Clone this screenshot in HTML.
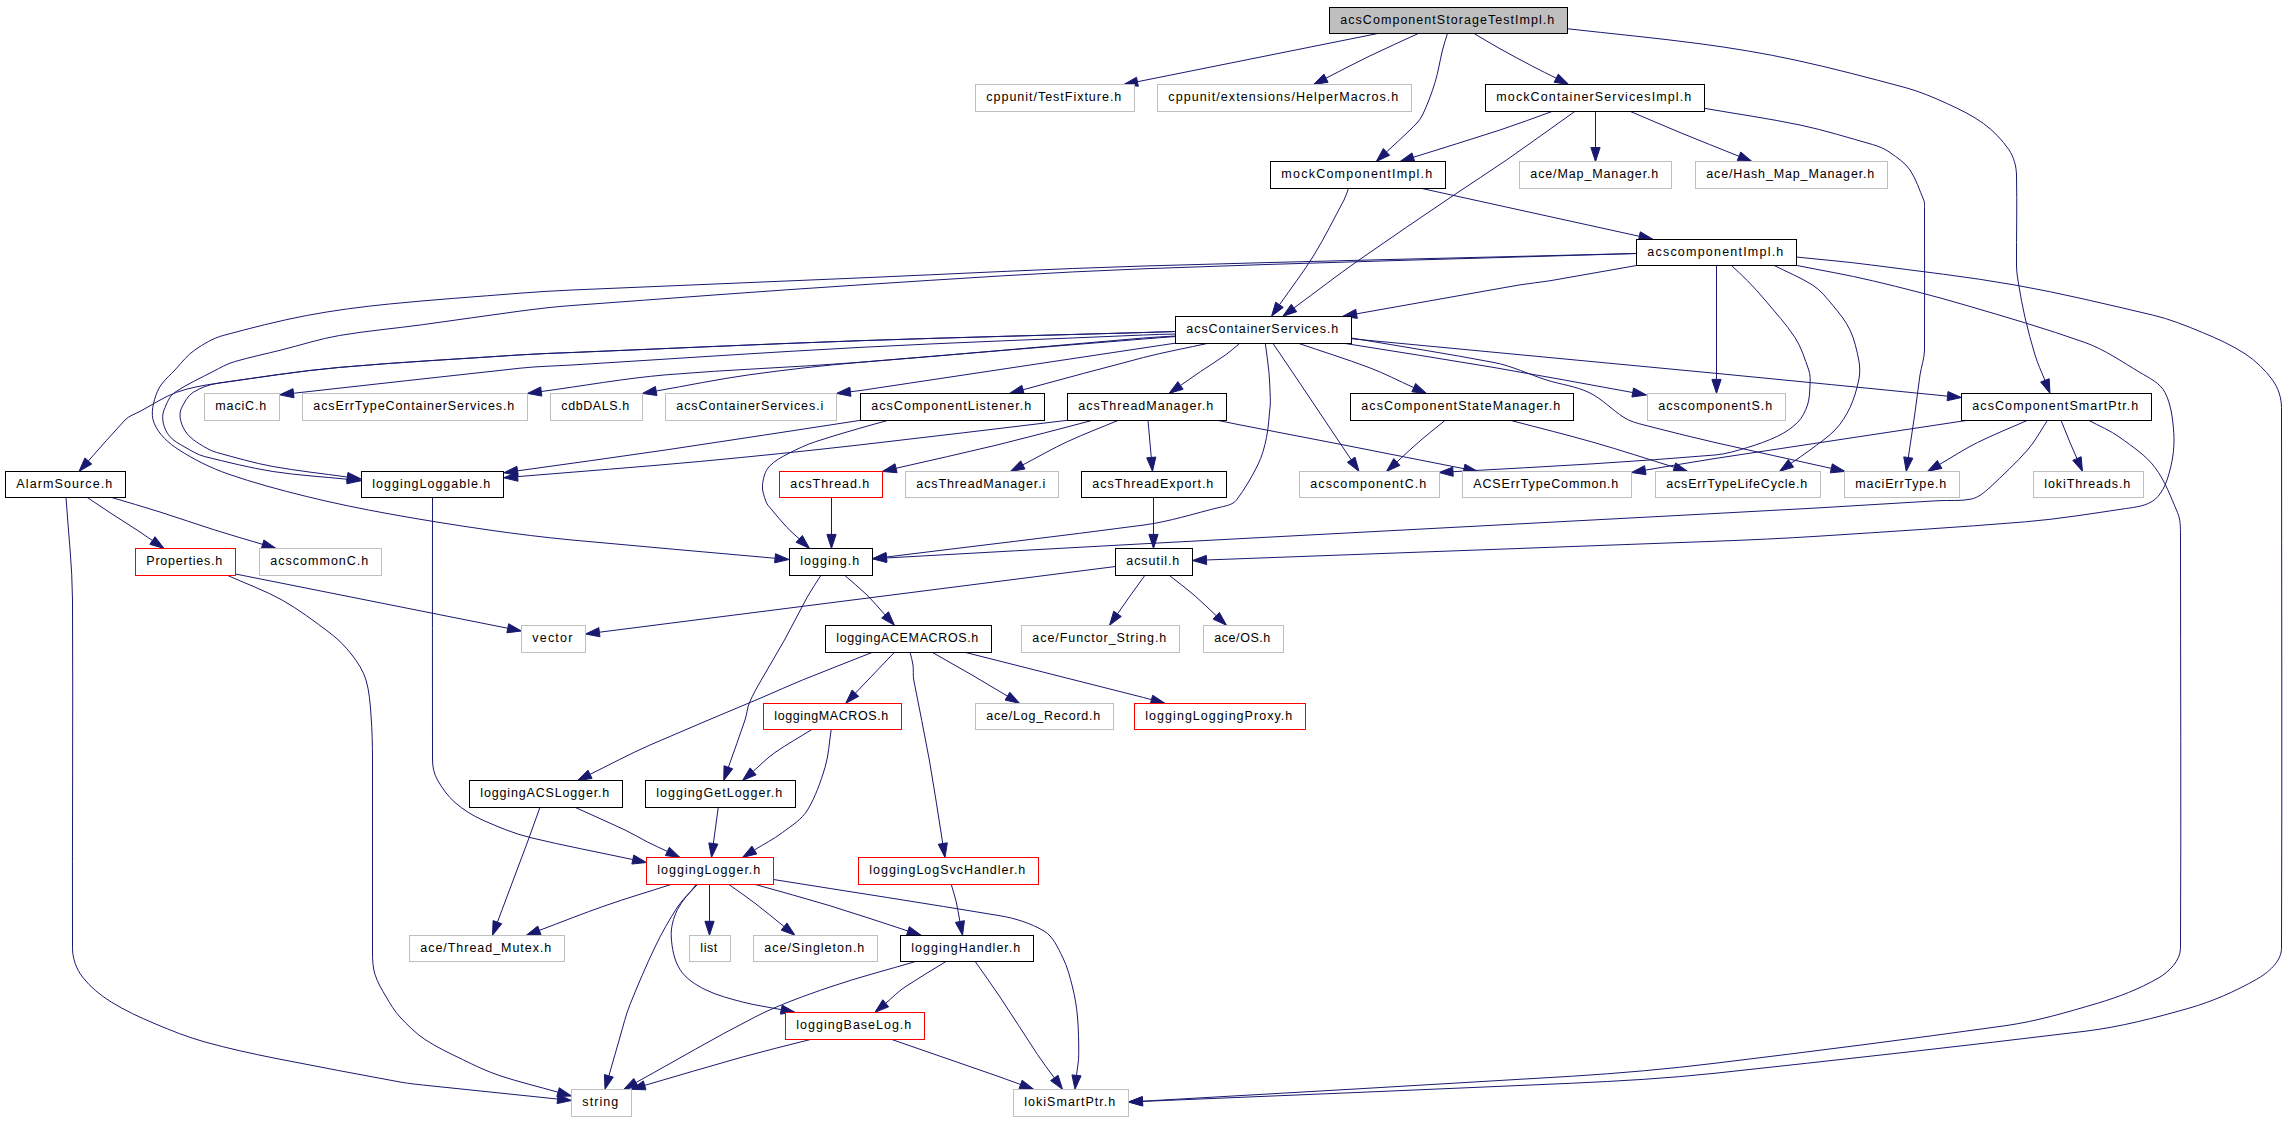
<!DOCTYPE html>
<html><head><meta charset="utf-8"><title>acsComponentStorageTestImpl.h include graph</title>
<style>html,body{margin:0;padding:0;background:#fff;width:2287px;height:1123px;overflow:hidden}
svg{display:block}
text{font-family:"Liberation Sans",sans-serif;font-size:12.5px;fill:#000}
</style></head><body>
<svg width="2287" height="1123" viewBox="0 0 2287 1123">
<rect x="0" y="0" width="2287" height="1123" fill="#fff"/>

<g fill="none" stroke="#191970" stroke-width="1">
<path d="M1378.75,33.30 L1137.43,81.74"/>
<path d="M1418.75,33.30 C1402.40,40.87 1385.93,48.17 1369.70,56.00 C1354.99,63.10 1340.56,70.78 1325.99,78.17"/>
<path d="M1447.50,33.30 C1445.83,38.87 1443.88,44.36 1442.50,50.00 C1439.85,60.80 1438.29,71.88 1435.00,82.50 C1431.57,93.59 1427.50,104.52 1422.50,115.00 C1419.70,120.87 1414.61,125.40 1410.00,130.00 C1402.41,137.58 1394.32,144.63 1386.48,151.95"/>
<path d="M1473.75,33.30 C1482.50,38.45 1491.14,43.80 1500.00,48.75 C1510.74,54.75 1521.61,60.52 1532.50,66.25 C1540.34,70.38 1548.33,74.22 1556.25,78.20"/>
<path d="M1567.50,28.75 C1611.67,33.75 1655.94,37.89 1700.00,43.75 C1731.85,47.98 1763.60,53.20 1795.00,60.00 C1831.94,68.00 1868.49,77.72 1905.00,87.50 C1919.65,91.42 1933.70,97.45 1947.50,103.75 C1960.05,109.48 1972.61,115.61 1983.75,123.75 C1993.41,130.81 2001.97,139.65 2008.75,149.50 C2013.79,156.82 2016.29,166.12 2016.50,175.00 C2017.21,204.99 2016.34,235.00 2016.50,265.00 C2016.54,271.71 2017.62,278.39 2018.75,285.00 C2020.60,295.87 2022.48,306.76 2025.00,317.50 C2027.96,330.09 2031.21,342.63 2035.00,355.00 C2037.66,363.68 2041.60,371.91 2044.91,380.36"/>
<path d="M1552.50,111.30 C1535.00,117.53 1517.66,124.24 1500.00,130.00 C1471.21,139.39 1442.24,148.20 1413.35,157.29"/>
<path d="M1575.00,111.30 C1552.17,127.53 1529.51,144.01 1506.50,160.00 C1489.23,172.00 1471.39,183.17 1454.00,195.00 C1422.27,216.58 1390.41,237.96 1359.00,260.00 C1336.96,275.47 1315.68,291.99 1294.01,307.98"/>
<path d="M1595.50,111.30 L1595.50,147.50"/>
<path d="M1630.00,111.30 C1646.67,118.37 1663.26,125.61 1680.00,132.50 C1699.61,140.57 1719.34,148.35 1739.01,156.27"/>
<path d="M1704.00,108.25 C1736.00,113.83 1768.21,118.35 1800.00,125.00 C1824.50,130.13 1848.40,137.75 1872.50,144.50 C1878.68,146.23 1884.78,148.78 1890.00,152.50 C1897.21,157.64 1905.03,162.66 1910.00,170.00 C1916.17,179.11 1919.33,189.93 1923.75,200.00 C1924.76,202.30 1924.50,204.99 1924.50,207.50 C1924.51,255.00 1924.76,302.50 1924.50,350.00 C1924.45,358.47 1921.24,366.62 1920.00,375.00 C1918.16,387.48 1916.78,400.02 1915.00,412.50 C1912.86,427.53 1910.54,442.53 1908.31,457.55"/>
<path d="M1348.50,188.30 C1347.00,192.20 1345.98,196.32 1344.00,200.00 C1334.09,218.38 1324.93,237.21 1314.00,255.00 C1303.43,272.21 1290.98,288.20 1279.48,304.79"/>
<path d="M1421.00,188.30 L1639.33,236.29"/>
<path d="M1637.75,265.30 C1608.50,270.45 1579.27,275.72 1550.00,280.75 C1539.72,282.52 1529.27,283.19 1519.00,285.00 C1464.83,294.54 1410.69,304.23 1356.53,313.85"/>
<path d="M1636.00,253.50 C1472.00,257.67 1307.98,261.15 1144.00,266.00 C1048.62,268.82 953.33,274.00 858.00,278.00 C762.67,282.00 667.33,285.94 572.00,290.00 C554.65,290.74 537.31,291.82 520.00,293.20 C476.42,296.68 432.80,299.69 389.30,304.00 C361.47,306.76 333.68,310.38 306.20,315.60 C278.22,320.92 250.60,328.07 223.10,335.50 C212.87,338.26 203.57,344.04 194.80,350.00 C187.70,354.82 182.32,361.80 176.60,368.20 C169.89,375.70 161.14,382.16 157.40,391.50 C153.46,401.33 150.11,413.29 154.10,423.10 C158.69,434.40 168.73,443.33 179.00,449.90 C194.36,459.72 210.88,468.02 228.10,474.00 C253.68,482.89 279.91,489.91 306.20,496.40 C333.68,503.18 361.45,508.84 389.30,513.90 C422.42,519.92 455.68,525.18 489.00,530.00 C516.58,533.99 544.26,537.38 572.00,540.00 C639.66,546.38 707.37,552.16 775.06,558.25"/>
<path d="M1636.00,253.50 C1472.00,258.58 1307.96,262.60 1144.00,268.75 C1048.58,272.33 953.29,278.88 858.00,285.00 C762.62,291.13 667.33,298.56 572.00,305.50 C554.61,306.77 537.28,308.81 520.00,311.10 C487.47,315.41 455.02,320.29 422.50,324.70 C394.82,328.45 366.94,330.83 339.40,335.50 C319.69,338.85 300.60,345.16 281.20,350.00 C265.70,353.86 250.05,357.17 234.70,361.60 C227.09,363.80 220.11,367.82 213.10,371.50 C200.26,378.23 186.94,384.22 174.90,392.30 C169.21,396.12 166.83,403.51 164.10,409.80 C162.33,413.88 162.29,418.77 163.30,423.10 C164.44,427.98 166.52,432.90 169.90,436.60 C173.78,440.86 178.97,443.79 184.00,446.60 C190.72,450.35 197.32,454.78 204.80,456.60 C227.38,462.08 249.94,467.90 272.90,471.50 C297.52,475.37 322.48,476.67 347.28,479.25"/>
<path d="M1716.50,265.30 L1716.50,379.40"/>
<path d="M1731.25,265.30 C1736.67,270.45 1742.30,275.38 1747.50,280.75 C1753.53,286.98 1759.49,293.31 1765.00,300.00 C1775.18,312.36 1786.24,324.10 1795.00,337.50 C1801.43,347.35 1804.70,358.96 1808.75,370.00 C1810.48,374.71 1810.25,379.99 1810.00,385.00 C1809.66,391.71 1809.62,398.63 1807.50,405.00 C1805.38,411.37 1802.25,417.75 1797.50,422.50 C1791.78,428.22 1784.79,432.75 1777.50,436.25 C1767.87,440.87 1757.73,444.44 1747.50,447.50 C1736.85,450.68 1726.08,454.08 1715.00,455.00 C1674.70,458.35 1634.36,461.20 1594.00,463.75 C1547.01,466.72 1499.99,469.06 1452.98,471.71"/>
<path d="M1773.75,265.30 C1786.67,271.87 1800.25,277.26 1812.50,285.00 C1820.47,290.04 1826.49,297.74 1832.50,305.00 C1838.99,312.84 1845.64,320.81 1850.00,330.00 C1854.47,339.41 1856.66,349.79 1858.75,360.00 C1860.09,366.53 1860.13,373.48 1858.75,380.00 C1856.76,389.41 1854.09,398.79 1850.00,407.50 C1846.17,415.66 1841.26,423.52 1835.00,430.00 C1827.59,437.68 1818.48,443.52 1810.00,450.00 C1803.84,454.71 1797.31,458.91 1790.96,463.36"/>
<path d="M1796.00,265.30 C1821.50,270.45 1847.19,274.73 1872.50,280.75 C1903.51,288.13 1934.42,296.01 1965.00,305.00 C2005.21,316.82 2045.52,328.45 2085.00,342.50 C2104.67,349.50 2122.04,361.84 2140.00,372.50 C2149.18,377.95 2160.16,382.99 2165.00,392.50 C2171.19,404.67 2172.78,418.89 2173.75,432.50 C2174.64,445.03 2173.19,457.85 2170.00,470.00 C2167.24,480.51 2163.46,491.92 2155.30,499.10 C2147.45,506.01 2135.75,507.07 2125.40,508.60 C2091.87,513.55 2058.38,519.14 2024.60,521.90 C1956.46,527.47 1888.22,531.65 1820.00,536.10 C1785.03,538.38 1750.02,539.94 1715.00,541.25 C1545.50,547.58 1375.99,553.74 1206.49,559.98"/>
<path d="M1796.25,257.00 C1821.33,259.67 1846.49,261.69 1871.50,265.00 C1919.38,271.33 1967.45,276.57 2015.00,285.00 C2061.19,293.19 2106.82,304.31 2152.50,315.00 C2169.69,319.02 2186.19,325.73 2202.50,332.50 C2217.13,338.57 2231.75,345.07 2245.00,353.75 C2255.60,360.69 2265.04,369.76 2272.50,380.00 C2278.18,387.80 2281.49,397.85 2281.50,407.50 C2281.66,587.75 2282.12,768.00 2281.50,948.25 C2281.45,961.64 2267.92,972.92 2256.25,979.50 C2234.95,991.51 2212.27,1001.55 2188.75,1008.25 C2154.68,1017.96 2120.16,1026.98 2085.00,1031.25 C1961.78,1046.22 1838.41,1059.95 1715.00,1073.25 C1667.33,1078.39 1619.40,1081.09 1571.50,1083.25 C1428.51,1089.70 1285.49,1095.36 1142.49,1101.41"/>
<path d="M1175.50,331.50 C1164.83,331.83 1154.17,332.19 1143.50,332.50 C1049.00,335.24 954.48,337.39 860.00,340.70 C763.98,344.07 668.00,348.55 572.00,352.50 C554.66,353.21 537.31,353.73 520.00,354.90 C459.79,358.96 399.51,362.09 339.40,367.40 C298.78,370.99 258.48,377.56 218.10,383.20 C204.07,385.16 189.93,387.52 176.60,392.30 C163.65,396.95 152.16,404.96 140.00,411.40 C134.91,414.10 128.96,415.82 125.00,420.00 C112.40,433.30 100.56,447.31 88.34,460.97"/>
<path d="M1175.50,331.50 C1164.83,331.83 1154.17,332.19 1143.50,332.50 C1049.00,335.24 954.48,337.39 860.00,340.70 C763.98,344.07 668.00,348.55 572.00,352.50 C554.66,353.21 537.31,353.73 520.00,354.90 C459.79,358.96 399.51,362.09 339.40,367.40 C298.78,370.99 258.48,377.54 218.10,383.20 C209.35,384.43 200.71,387.64 193.20,392.30 C187.63,395.75 184.49,402.27 181.50,408.10 C179.59,411.81 179.68,416.55 180.70,420.60 C181.93,425.47 184.21,430.22 187.40,434.10 C190.77,438.20 195.29,441.30 199.80,444.10 C205.06,447.36 210.43,450.78 216.40,452.40 C235.14,457.48 253.80,463.03 272.90,466.50 C297.56,470.98 322.53,473.53 347.34,477.04"/>
<path d="M1175.50,334.00 C1164.83,334.33 1154.16,334.54 1143.50,335.00 C1049.00,339.12 954.46,342.43 860.00,347.40 C763.95,352.45 668.00,359.13 572.00,365.00 C554.67,366.06 537.27,366.33 520.00,368.20 C444.49,376.37 369.01,384.91 293.52,393.26"/>
<path d="M1175.50,336.00 C1164.83,336.67 1154.15,337.09 1143.50,338.00 C1049.00,346.07 954.55,354.83 860.00,362.30 C795.47,367.40 730.70,369.32 666.20,374.80 C624.34,378.36 582.92,385.96 541.28,391.54"/>
<path d="M1175.50,336.50 C1164.83,337.33 1154.16,338.12 1143.50,339.00 C1049.00,346.76 954.47,354.15 860.00,362.30 C823.00,365.49 786.08,369.71 749.30,374.80 C718.10,379.12 687.23,385.60 656.19,391.00"/>
<path d="M1175.70,343.10 C1070.47,358.93 965.23,374.77 860.00,390.60 C856.81,391.08 853.60,391.36 850.40,391.74"/>
<path d="M1209.00,343.10 C1187.17,347.90 1165.15,351.93 1143.50,357.50 C1103.23,367.85 1063.18,379.02 1023.02,389.78"/>
<path d="M1240.00,343.10 C1235.20,347.03 1230.67,351.32 1225.60,354.90 C1217.42,360.66 1208.89,365.90 1200.60,371.50 C1193.85,376.06 1187.20,380.78 1180.51,385.43"/>
<path d="M1265.25,343.10 C1266.50,352.90 1268.06,362.67 1269.00,372.50 C1269.79,380.81 1269.87,389.17 1270.25,397.50 C1270.36,400.00 1270.52,402.51 1270.25,405.00 C1269.06,415.84 1268.66,426.81 1266.50,437.50 C1264.59,446.93 1262.08,456.41 1257.75,465.00 C1251.61,477.19 1244.78,489.15 1236.50,500.00 C1232.65,505.04 1225.17,506.00 1219.00,507.50 C1194.06,513.58 1169.45,521.62 1144.00,525.00 C1058.23,536.41 972.26,546.35 886.39,557.02"/>
<path d="M1272.75,343.10 C1281.08,355.40 1289.47,367.67 1297.75,380.00 C1315.59,406.57 1333.39,433.18 1351.21,459.77"/>
<path d="M1297.75,343.10 C1321.50,351.23 1345.49,358.71 1369.00,367.50 C1384.32,373.23 1398.82,380.93 1413.74,387.65"/>
<path d="M1342.75,343.10 C1393.17,351.23 1443.65,358.94 1494.00,367.50 C1540.32,375.38 1586.48,384.18 1632.72,392.52"/>
<path d="M1351.50,338.00 C1399.00,346.17 1446.67,353.42 1494.00,362.50 C1512.12,365.98 1528.92,374.41 1546.50,380.00 C1560.57,384.47 1575.69,386.10 1589.00,392.50 C1601.92,398.71 1611.92,409.78 1624.00,417.50 C1630.00,421.34 1637.10,423.23 1644.00,425.00 C1667.61,431.05 1691.24,437.06 1715.00,442.50 C1753.72,451.36 1792.56,459.74 1831.33,468.36"/>
<path d="M1351.50,338.75 C1472.67,350.25 1593.84,361.63 1715.00,373.25 C1792.54,380.69 1870.04,388.50 1947.57,396.13"/>
<path d="M860.60,420.30 C795.80,430.17 731.04,440.30 666.20,449.90 C616.70,457.23 567.11,463.86 517.56,470.85"/>
<path d="M888.20,420.30 C878.80,422.93 869.36,425.43 860.00,428.20 C845.21,432.58 830.31,436.65 815.70,441.60 C806.54,444.71 797.67,448.71 789.10,453.20 C782.04,456.91 774.53,460.57 769.20,466.50 C764.86,471.33 763.24,478.35 762.50,484.80 C761.86,490.41 764.14,496.03 765.90,501.40 C766.99,504.74 769.76,507.30 772.00,510.00 C776.91,515.91 781.78,521.87 787.00,527.50 C790.79,531.58 795.16,535.08 799.24,538.87"/>
<path d="M1067.40,420.30 C998.27,428.50 929.18,437.09 860.00,444.90 C806.52,450.94 752.99,456.56 699.40,461.50 C638.86,467.08 578.23,471.59 517.65,476.64"/>
<path d="M1092.60,420.30 C1060.73,428.53 1028.98,437.21 997.00,445.00 C963.45,453.18 929.70,460.50 896.04,468.26"/>
<path d="M1118.40,420.30 C1101.50,427.37 1084.31,433.78 1067.70,441.50 C1052.39,448.61 1037.77,457.12 1022.81,464.92"/>
<path d="M1148.00,420.30 L1151.27,457.45"/>
<path d="M1217.50,420.30 C1225.00,421.83 1232.48,423.44 1240.00,424.90 C1274.66,431.62 1309.35,438.22 1344.00,445.00 C1384.02,452.83 1424.01,460.79 1464.02,468.69"/>
<path d="M1445.25,420.30 C1437.17,426.87 1428.89,433.20 1421.00,440.00 C1412.76,447.11 1404.90,454.65 1396.85,461.98"/>
<path d="M1510.25,420.30 C1538.17,427.70 1566.23,434.56 1594.00,442.50 C1620.95,450.21 1647.58,459.02 1674.37,467.28"/>
<path d="M1967.50,420.30 C1883.33,433.03 1799.15,445.67 1715.00,458.50 C1691.71,462.05 1668.54,466.29 1645.31,470.19"/>
<path d="M2027.50,420.30 C2010.83,427.70 1993.85,434.42 1977.50,442.50 C1964.43,448.97 1952.25,457.10 1939.62,464.39"/>
<path d="M2061.00,420.30 C2064.00,427.70 2066.94,435.12 2070.00,442.50 C2072.23,447.88 2074.63,453.20 2076.94,458.55"/>
<path d="M2047.50,420.30 C2040.83,430.20 2035.43,441.08 2027.50,450.00 C2015.79,463.18 2002.91,475.29 1990.00,487.30 C1984.56,492.36 1978.37,497.59 1971.10,499.10 C1960.29,501.35 1949.03,500.05 1938.00,500.70 C1898.66,503.03 1859.34,505.54 1820.00,507.80 C1785.01,509.81 1750.00,511.64 1715.00,513.50 C1524.67,523.59 1334.33,533.59 1144.00,543.75 C1058.15,548.33 972.32,553.24 886.48,557.98"/>
<path d="M2088.75,420.30 C2099.17,426.03 2110.40,430.48 2120.00,437.50 C2132.40,446.57 2145.76,455.22 2155.00,467.50 C2165.09,480.90 2170.84,497.11 2177.50,512.50 C2180.50,519.44 2180.50,527.43 2180.50,535.00 C2180.55,672.75 2181.18,810.50 2180.50,948.25 C2180.44,960.75 2168.84,972.02 2158.00,978.25 C2139.08,989.12 2118.42,997.06 2097.50,1003.25 C2067.07,1012.26 2036.43,1021.35 2005.00,1025.75 C1908.47,1039.27 1811.76,1051.47 1715.00,1063.25 C1667.32,1069.05 1619.44,1073.31 1571.50,1076.25 C1428.52,1085.03 1285.48,1092.88 1142.48,1101.19"/>
<path d="M66.00,497.30 C68.17,531.53 72.33,565.70 72.50,600.00 C73.09,716.08 72.21,832.17 72.50,948.25 C72.53,958.40 76.33,968.94 82.50,977.00 C90.22,987.08 100.47,995.28 111.25,1002.00 C125.07,1010.61 140.01,1017.39 155.00,1023.75 C171.34,1030.67 187.91,1037.25 205.00,1042.00 C228.08,1048.42 251.51,1053.55 275.00,1058.25 C316.59,1066.57 358.31,1074.22 400.00,1082.00 C409.91,1083.85 419.98,1084.69 430.00,1085.75 C472.52,1090.23 515.05,1094.62 557.58,1099.05"/>
<path d="M87.00,497.30 C95.33,502.87 103.61,508.51 112.00,514.00 C120.28,519.42 128.71,524.60 137.00,530.00 C142.22,533.40 147.29,537.01 152.43,540.52"/>
<path d="M111.00,497.30 C127.33,502.20 143.74,506.86 160.00,512.00 C178.33,517.79 196.47,524.20 214.80,530.00 C230.66,535.02 246.66,539.58 262.59,544.37"/>
<path d="M432.50,497.30 C432.50,584.87 432.37,672.43 432.50,760.00 C432.51,766.87 434.09,774.03 437.50,780.00 C442.21,788.25 447.83,796.27 455.00,802.50 C463.20,809.62 472.56,815.61 482.50,820.00 C497.94,826.81 513.60,833.52 530.00,837.50 C564.06,845.76 598.54,852.21 632.81,859.56"/>
<path d="M831.50,497.30 L831.50,534.40"/>
<path d="M1153.50,497.30 L1153.50,534.40"/>
<path d="M235.50,574.00 L507.77,628.26"/>
<path d="M227.00,575.20 C245.33,583.47 264.45,590.19 282.00,600.00 C298.95,609.48 314.46,621.36 330.00,633.00 C338.30,639.22 345.65,646.80 352.00,655.00 C357.85,662.55 363.29,670.84 366.00,680.00 C369.34,691.30 370.12,703.25 371.00,715.00 C372.12,729.97 372.47,744.99 372.50,760.00 C372.61,824.00 372.40,888.00 372.50,952.00 C372.51,959.55 372.73,967.30 375.00,974.50 C377.53,982.50 382.01,989.77 386.25,997.00 C390.34,1003.98 394.44,1011.12 400.00,1017.00 C407.70,1025.15 415.64,1033.32 425.00,1039.50 C436.82,1047.30 449.75,1053.33 462.50,1059.50 C474.76,1065.44 487.06,1071.49 500.00,1075.75 C519.10,1082.03 538.69,1086.71 558.03,1092.19"/>
<path d="M844.50,575.20 C852.00,581.80 859.84,588.03 867.00,595.00 C873.43,601.26 879.06,608.29 885.09,614.93"/>
<path d="M821.00,575.20 C816.33,582.63 811.24,589.81 807.00,597.50 C799.26,611.54 792.27,625.98 784.50,640.00 C777.03,653.49 768.86,666.59 761.25,680.00 C757.07,687.36 752.83,694.72 749.50,702.50 C747.13,708.04 746.94,714.30 745.00,720.00 C739.62,735.82 733.93,751.53 728.39,767.29"/>
<path d="M1115.50,566.50 L599.39,632.23"/>
<path d="M1145.00,575.20 C1140.00,582.13 1134.96,589.04 1130.00,596.00 C1125.79,601.91 1121.68,607.89 1117.53,613.83"/>
<path d="M1169.00,575.20 C1177.33,581.80 1185.93,588.09 1194.00,595.00 C1201.70,601.60 1208.84,608.84 1216.26,615.75"/>
<path d="M872.75,652.20 C849.33,661.47 825.84,670.55 802.50,680.00 C788.87,685.52 775.53,691.75 762.00,697.50 C724.68,713.36 687.13,728.70 650.00,745.00 C629.63,753.94 610.05,764.56 590.07,774.34"/>
<path d="M894.50,652.20 L855.41,693.17"/>
<path d="M910.00,652.20 C911.00,656.47 912.44,660.65 913.00,665.00 C913.64,669.97 912.82,675.08 913.75,680.00 C918.88,707.02 924.70,733.92 929.50,761.00 C934.37,788.45 938.35,816.05 942.78,843.58"/>
<path d="M932.00,652.20 C945.33,659.80 958.73,667.29 972.00,675.00 C983.90,681.92 995.65,689.09 1007.47,696.13"/>
<path d="M964.50,652.20 C1024.17,667.30 1083.83,682.40 1143.50,697.50 C1146.17,698.18 1148.82,698.94 1151.48,699.65"/>
<path d="M812.00,729.40 C799.67,737.10 786.96,744.23 775.00,752.50 C767.08,757.98 760.40,765.07 753.11,771.36"/>
<path d="M831.25,729.40 C829.17,742.10 828.76,755.19 825.00,767.50 C820.53,782.15 815.45,796.90 807.50,810.00 C801.68,819.58 791.45,825.75 782.50,832.50 C773.69,839.15 763.76,844.17 754.39,850.00"/>
<path d="M540.00,807.30 C535.83,818.87 531.79,830.48 527.50,842.00 C517.53,868.75 507.44,895.46 497.42,922.19"/>
<path d="M575.00,807.30 C591.67,814.87 608.42,822.25 625.00,830.00 C632.70,833.60 639.92,838.15 647.50,842.00 C654.03,845.31 660.73,848.27 667.35,851.41"/>
<path d="M718.25,807.30 L713.37,843.53"/>
<path d="M671.25,884.40 C649.17,891.52 626.91,898.11 605.00,905.75 C582.93,913.45 561.24,922.17 539.36,930.38"/>
<path d="M709.50,884.40 L709.50,921.30"/>
<path d="M728.75,884.40 C737.50,890.68 746.44,896.71 755.00,903.25 C764.86,910.79 774.38,918.78 784.07,926.55"/>
<path d="M755.00,884.40 C780.00,891.52 805.14,898.16 830.00,905.75 C856.12,913.72 881.95,922.57 907.93,930.99"/>
<path d="M773.50,879.50 C849.00,891.58 924.59,903.15 1000.00,915.75 C1015.31,918.31 1030.59,923.18 1044.00,931.00 C1053.19,936.36 1057.67,947.52 1062.50,957.00 C1067.29,966.39 1069.93,976.78 1072.50,987.00 C1074.97,996.83 1076.63,1006.90 1077.50,1017.00 C1078.57,1029.46 1078.75,1041.99 1078.75,1054.50 C1078.75,1061.50 1077.25,1068.42 1076.50,1075.38"/>
<path d="M697.50,884.40 C690.83,891.93 682.98,898.57 677.50,907.00 C669.16,919.83 661.60,933.20 655.00,947.00 C645.99,965.86 637.84,985.13 630.00,1004.50 C625.75,1015.01 623.21,1026.13 620.00,1037.00 C616.18,1049.92 612.57,1062.90 608.86,1075.84"/>
<path d="M696.25,884.40 C690.00,892.77 682.09,900.12 677.50,909.50 C673.37,917.95 670.66,927.62 671.25,937.00 C671.96,948.20 674.01,960.01 680.00,969.50 C685.70,978.52 695.44,984.75 705.00,989.50 C716.80,995.36 729.76,998.64 742.50,1002.00 C755.23,1005.36 768.34,1007.07 781.26,1009.60"/>
<path d="M951.25,884.40 C952.92,890.27 954.88,896.06 956.25,902.00 C957.74,908.46 958.69,915.03 959.92,921.54"/>
<path d="M916.25,961.30 C887.50,969.87 858.38,977.27 830.00,987.00 C804.53,995.73 778.99,1004.77 755.00,1017.00 C714.66,1037.56 675.68,1060.70 636.01,1082.55"/>
<path d="M946.25,961.30 C932.50,969.87 918.48,978.02 905.00,987.00 C898.00,991.66 892.13,997.85 885.70,1003.27"/>
<path d="M975.00,961.30 C983.33,973.20 991.95,984.91 1000.00,997.00 C1012.68,1016.05 1024.87,1035.42 1037.50,1054.50 C1042.81,1062.52 1048.72,1070.12 1054.33,1077.93"/>
<path d="M811.25,1039.30 C788.33,1045.20 765.29,1050.63 742.50,1057.00 C709.81,1066.14 677.30,1075.93 644.69,1085.40"/>
<path d="M891.25,1039.30 C927.50,1051.87 963.76,1064.41 1000.00,1077.00 C1006.90,1079.40 1013.73,1082.00 1020.60,1084.51"/>
</g>
<g fill="#191970" stroke="#191970" stroke-width="1">
<polygon points="1123.70,84.50 1136.52,77.23 1138.33,86.25"/>
<polygon points="1313.50,84.50 1323.91,74.07 1328.07,82.27"/>
<polygon points="1376.25,161.50 1383.35,148.58 1389.62,155.31"/>
<polygon points="1568.75,84.50 1554.18,82.31 1558.31,74.10"/>
<polygon points="2050.00,393.40 2040.62,382.03 2049.19,378.69"/>
<polygon points="1400.00,161.50 1411.97,152.91 1414.74,161.68"/>
<polygon points="1282.75,316.30 1291.28,304.28 1296.74,311.68"/>
<polygon points="1595.50,161.50 1590.90,147.50 1600.10,147.50"/>
<polygon points="1752.00,161.50 1737.30,160.54 1740.73,152.00"/>
<polygon points="1906.25,471.40 1903.76,456.88 1912.86,458.23"/>
<polygon points="1271.50,316.30 1275.70,302.17 1283.26,307.42"/>
<polygon points="1653.00,239.30 1638.34,240.79 1640.31,231.80"/>
<polygon points="1342.75,316.30 1355.73,309.32 1357.34,318.38"/>
<polygon points="789.00,559.50 774.64,562.83 775.47,553.67"/>
<polygon points="361.20,480.70 346.80,483.82 347.75,474.67"/>
<polygon points="1716.50,393.40 1711.90,379.40 1721.10,379.40"/>
<polygon points="1439.00,472.50 1452.72,467.12 1453.24,476.30"/>
<polygon points="1779.50,471.40 1788.32,459.59 1793.60,467.12"/>
<polygon points="1192.50,560.50 1206.32,555.39 1206.66,564.58"/>
<polygon points="1128.50,1102.00 1142.29,1096.81 1142.68,1106.00"/>
<polygon points="79.00,471.40 84.91,457.90 91.76,464.04"/>
<polygon points="361.20,479.00 346.69,481.59 347.98,472.48"/>
<polygon points="279.60,394.80 293.01,388.69 294.02,397.83"/>
<polygon points="527.40,393.40 540.67,386.98 541.89,396.10"/>
<polygon points="642.40,393.40 655.40,386.47 656.98,395.53"/>
<polygon points="836.50,393.40 849.86,387.18 850.95,396.31"/>
<polygon points="1009.50,393.40 1021.83,385.33 1024.21,394.22"/>
<polygon points="1169.00,393.40 1177.89,381.64 1183.13,389.21"/>
<polygon points="872.50,558.75 885.83,552.46 886.96,561.59"/>
<polygon points="1359.00,471.40 1347.39,462.33 1355.03,457.21"/>
<polygon points="1426.50,393.40 1411.85,391.84 1415.62,383.46"/>
<polygon points="1646.50,395.00 1631.91,397.04 1633.54,387.99"/>
<polygon points="1845.00,471.40 1830.34,472.85 1832.33,463.87"/>
<polygon points="1961.50,397.50 1947.12,400.71 1948.02,391.55"/>
<polygon points="503.70,472.80 516.92,466.29 518.20,475.40"/>
<polygon points="809.50,548.40 796.11,542.24 802.37,535.50"/>
<polygon points="503.70,477.80 517.27,472.05 518.03,481.22"/>
<polygon points="882.40,471.40 895.01,463.77 897.08,472.74"/>
<polygon points="1010.40,471.40 1020.68,460.85 1024.94,469.00"/>
<polygon points="1152.50,471.40 1146.69,457.86 1155.85,457.05"/>
<polygon points="1477.75,471.40 1463.12,473.20 1464.91,464.18"/>
<polygon points="1386.50,471.40 1393.76,458.57 1399.95,465.38"/>
<polygon points="1687.75,471.40 1673.02,471.67 1675.73,462.88"/>
<polygon points="1631.50,472.50 1644.55,465.65 1646.07,474.72"/>
<polygon points="1927.50,471.40 1937.32,460.41 1941.92,468.38"/>
<polygon points="2082.50,471.40 2072.72,460.38 2081.16,456.72"/>
<polygon points="872.50,558.75 886.22,553.38 886.73,562.57"/>
<polygon points="1128.50,1102.00 1142.21,1096.60 1142.74,1105.78"/>
<polygon points="571.50,1100.50 557.10,1103.62 558.05,1094.47"/>
<polygon points="164.00,548.40 149.84,544.32 155.02,536.71"/>
<polygon points="276.00,548.40 261.27,548.77 263.92,539.96"/>
<polygon points="646.50,862.50 631.85,864.06 633.78,855.06"/>
<polygon points="831.50,548.40 826.90,534.40 836.10,534.40"/>
<polygon points="1153.50,548.40 1148.90,534.40 1158.10,534.40"/>
<polygon points="521.50,631.00 506.87,632.77 508.67,623.75"/>
<polygon points="571.50,1096.00 556.78,1096.61 559.28,1087.76"/>
<polygon points="894.50,625.30 881.68,618.02 888.50,611.84"/>
<polygon points="723.75,780.50 724.05,765.77 732.73,768.82"/>
<polygon points="585.50,634.00 598.81,627.67 599.97,636.79"/>
<polygon points="1109.50,625.30 1113.76,611.19 1121.29,616.47"/>
<polygon points="1226.50,625.30 1213.12,619.12 1219.40,612.39"/>
<polygon points="577.50,780.50 588.05,770.21 592.10,778.47"/>
<polygon points="845.75,703.30 852.09,690.00 858.74,696.35"/>
<polygon points="945.00,857.40 938.24,844.31 947.32,842.85"/>
<polygon points="1019.50,703.30 1005.12,700.09 1009.83,692.18"/>
<polygon points="1165.00,703.30 1150.29,704.09 1152.68,695.21"/>
<polygon points="742.50,780.50 750.10,767.88 756.11,774.85"/>
<polygon points="742.50,857.40 751.95,846.10 756.82,853.91"/>
<polygon points="492.50,935.30 493.11,920.58 501.72,923.81"/>
<polygon points="680.00,857.40 665.38,855.56 669.32,847.25"/>
<polygon points="711.50,857.40 708.81,842.91 717.93,844.14"/>
<polygon points="526.25,935.30 537.74,926.07 540.97,934.69"/>
<polygon points="709.50,935.30 704.90,921.30 714.10,921.30"/>
<polygon points="795.00,935.30 781.20,930.14 786.95,922.96"/>
<polygon points="921.25,935.30 906.51,935.36 909.35,926.61"/>
<polygon points="1075.00,1089.30 1071.93,1074.89 1081.07,1075.87"/>
<polygon points="605.00,1089.30 604.44,1074.57 613.28,1077.11"/>
<polygon points="795.00,1012.30 780.38,1014.12 782.15,1005.09"/>
<polygon points="962.50,935.30 955.40,922.39 964.44,920.69"/>
<polygon points="623.75,1089.30 633.79,1078.52 638.23,1086.57"/>
<polygon points="875.00,1012.30 882.74,999.76 888.67,1006.79"/>
<polygon points="1062.50,1089.30 1050.60,1080.61 1058.07,1075.25"/>
<polygon points="631.25,1089.30 643.41,1080.98 645.98,1089.81"/>
<polygon points="1033.75,1089.30 1019.02,1088.83 1022.17,1080.18"/>
</g>
<rect x="1329.5" y="7.5" width="238.0" height="26.0" fill="#bfbfbf" stroke="#000" stroke-width="1"/>
<text x="1447.30" y="23.80" text-anchor="middle" textLength="214.0" lengthAdjust="spacing">acsComponentStorageTestImpl.h</text>
<rect x="975.5" y="84.5" width="159.0" height="27.0" fill="#fff" stroke="#bfbfbf" stroke-width="1"/>
<text x="1053.80" y="101.30" text-anchor="middle" textLength="135.0" lengthAdjust="spacing">cppunit/TestFixture.h</text>
<rect x="1157.5" y="84.5" width="254.0" height="27.0" fill="#fff" stroke="#bfbfbf" stroke-width="1"/>
<text x="1283.30" y="101.30" text-anchor="middle" textLength="230.0" lengthAdjust="spacing">cppunit/extensions/HelperMacros.h</text>
<rect x="1485.5" y="84.5" width="219.0" height="27.0" fill="#fff" stroke="#000" stroke-width="1"/>
<text x="1593.80" y="101.30" text-anchor="middle" textLength="195.0" lengthAdjust="spacing">mockContainerServicesImpl.h</text>
<rect x="1270.5" y="161.5" width="175.0" height="27.0" fill="#fff" stroke="#000" stroke-width="1"/>
<text x="1356.80" y="178.30" text-anchor="middle" textLength="151.0" lengthAdjust="spacing">mockComponentImpl.h</text>
<rect x="1519.5" y="161.5" width="152.0" height="27.0" fill="#fff" stroke="#bfbfbf" stroke-width="1"/>
<text x="1594.30" y="178.30" text-anchor="middle" textLength="128.0" lengthAdjust="spacing">ace/Map_Manager.h</text>
<rect x="1695.5" y="161.5" width="192.0" height="27.0" fill="#fff" stroke="#bfbfbf" stroke-width="1"/>
<text x="1790.30" y="178.30" text-anchor="middle" textLength="168.0" lengthAdjust="spacing">ace/Hash_Map_Manager.h</text>
<rect x="1636.5" y="239.5" width="160.0" height="26.0" fill="#fff" stroke="#000" stroke-width="1"/>
<text x="1715.30" y="255.80" text-anchor="middle" textLength="136.0" lengthAdjust="spacing">acscomponentImpl.h</text>
<rect x="1175.5" y="316.5" width="176.0" height="27.0" fill="#fff" stroke="#000" stroke-width="1"/>
<text x="1262.30" y="333.30" text-anchor="middle" textLength="152.0" lengthAdjust="spacing">acsContainerServices.h</text>
<rect x="204.5" y="393.5" width="75.0" height="27.0" fill="#fff" stroke="#bfbfbf" stroke-width="1"/>
<text x="240.80" y="410.30" text-anchor="middle" textLength="51.0" lengthAdjust="spacing">maciC.h</text>
<rect x="302.5" y="393.5" width="225.0" height="27.0" fill="#fff" stroke="#bfbfbf" stroke-width="1"/>
<text x="413.80" y="410.30" text-anchor="middle" textLength="201.0" lengthAdjust="spacing">acsErrTypeContainerServices.h</text>
<rect x="550.5" y="393.5" width="92.0" height="27.0" fill="#fff" stroke="#bfbfbf" stroke-width="1"/>
<text x="595.30" y="410.30" text-anchor="middle" textLength="68.0" lengthAdjust="spacing">cdbDALS.h</text>
<rect x="665.5" y="393.5" width="171.0" height="27.0" fill="#fff" stroke="#bfbfbf" stroke-width="1"/>
<text x="749.80" y="410.30" text-anchor="middle" textLength="147.0" lengthAdjust="spacing">acsContainerServices.i</text>
<rect x="860.5" y="393.5" width="184.0" height="27.0" fill="#fff" stroke="#000" stroke-width="1"/>
<text x="951.30" y="410.30" text-anchor="middle" textLength="160.0" lengthAdjust="spacing">acsComponentListener.h</text>
<rect x="1067.5" y="393.5" width="159.0" height="27.0" fill="#fff" stroke="#000" stroke-width="1"/>
<text x="1145.80" y="410.30" text-anchor="middle" textLength="135.0" lengthAdjust="spacing">acsThreadManager.h</text>
<rect x="1350.5" y="393.5" width="223.0" height="27.0" fill="#fff" stroke="#000" stroke-width="1"/>
<text x="1460.80" y="410.30" text-anchor="middle" textLength="199.0" lengthAdjust="spacing">acsComponentStateManager.h</text>
<rect x="1647.5" y="393.5" width="138.0" height="27.0" fill="#fff" stroke="#bfbfbf" stroke-width="1"/>
<text x="1715.30" y="410.30" text-anchor="middle" textLength="114.0" lengthAdjust="spacing">acscomponentS.h</text>
<rect x="1961.5" y="393.5" width="190.0" height="27.0" fill="#fff" stroke="#000" stroke-width="1"/>
<text x="2055.30" y="410.30" text-anchor="middle" textLength="166.0" lengthAdjust="spacing">acsComponentSmartPtr.h</text>
<rect x="5.5" y="471.5" width="120.0" height="26.0" fill="#fff" stroke="#000" stroke-width="1"/>
<text x="64.30" y="487.80" text-anchor="middle" textLength="96.0" lengthAdjust="spacing">AlarmSource.h</text>
<rect x="361.5" y="471.5" width="142.0" height="26.0" fill="#fff" stroke="#000" stroke-width="1"/>
<text x="431.30" y="487.80" text-anchor="middle" textLength="118.0" lengthAdjust="spacing">loggingLoggable.h</text>
<rect x="779.5" y="471.5" width="103.0" height="26.0" fill="#fff" stroke="#ff0000" stroke-width="1"/>
<text x="829.80" y="487.80" text-anchor="middle" textLength="79.0" lengthAdjust="spacing">acsThread.h</text>
<rect x="905.5" y="471.5" width="153.0" height="26.0" fill="#fff" stroke="#bfbfbf" stroke-width="1"/>
<text x="980.80" y="487.80" text-anchor="middle" textLength="129.0" lengthAdjust="spacing">acsThreadManager.i</text>
<rect x="1081.5" y="471.5" width="145.0" height="26.0" fill="#fff" stroke="#000" stroke-width="1"/>
<text x="1152.80" y="487.80" text-anchor="middle" textLength="121.0" lengthAdjust="spacing">acsThreadExport.h</text>
<rect x="1299.5" y="471.5" width="140.0" height="26.0" fill="#fff" stroke="#bfbfbf" stroke-width="1"/>
<text x="1368.30" y="487.80" text-anchor="middle" textLength="116.0" lengthAdjust="spacing">acscomponentC.h</text>
<rect x="1462.5" y="471.5" width="169.0" height="26.0" fill="#fff" stroke="#bfbfbf" stroke-width="1"/>
<text x="1545.80" y="487.80" text-anchor="middle" textLength="145.0" lengthAdjust="spacing">ACSErrTypeCommon.h</text>
<rect x="1655.5" y="471.5" width="165.0" height="26.0" fill="#fff" stroke="#bfbfbf" stroke-width="1"/>
<text x="1736.80" y="487.80" text-anchor="middle" textLength="141.0" lengthAdjust="spacing">acsErrTypeLifeCycle.h</text>
<rect x="1844.5" y="471.5" width="115.0" height="26.0" fill="#fff" stroke="#bfbfbf" stroke-width="1"/>
<text x="1900.80" y="487.80" text-anchor="middle" textLength="91.0" lengthAdjust="spacing">maciErrType.h</text>
<rect x="2033.5" y="471.5" width="110.0" height="26.0" fill="#fff" stroke="#bfbfbf" stroke-width="1"/>
<text x="2087.30" y="487.80" text-anchor="middle" textLength="86.0" lengthAdjust="spacing">lokiThreads.h</text>
<rect x="135.5" y="548.5" width="100.0" height="27.0" fill="#fff" stroke="#ff0000" stroke-width="1"/>
<text x="184.30" y="565.30" text-anchor="middle" textLength="76.0" lengthAdjust="spacing">Properties.h</text>
<rect x="259.5" y="548.5" width="122.0" height="27.0" fill="#fff" stroke="#bfbfbf" stroke-width="1"/>
<text x="319.30" y="565.30" text-anchor="middle" textLength="98.0" lengthAdjust="spacing">acscommonC.h</text>
<rect x="789.5" y="548.5" width="83.0" height="27.0" fill="#fff" stroke="#000" stroke-width="1"/>
<text x="829.80" y="565.30" text-anchor="middle" textLength="59.0" lengthAdjust="spacing">logging.h</text>
<rect x="1115.5" y="548.5" width="77.0" height="27.0" fill="#fff" stroke="#000" stroke-width="1"/>
<text x="1152.80" y="565.30" text-anchor="middle" textLength="53.0" lengthAdjust="spacing">acsutil.h</text>
<rect x="521.5" y="625.5" width="64.0" height="27.0" fill="#fff" stroke="#bfbfbf" stroke-width="1"/>
<text x="552.30" y="642.30" text-anchor="middle" textLength="40.0" lengthAdjust="spacing">vector</text>
<rect x="825.5" y="625.5" width="166.0" height="27.0" fill="#fff" stroke="#000" stroke-width="1"/>
<text x="907.30" y="642.30" text-anchor="middle" textLength="142.0" lengthAdjust="spacing">loggingACEMACROS.h</text>
<rect x="1021.5" y="625.5" width="158.0" height="27.0" fill="#fff" stroke="#bfbfbf" stroke-width="1"/>
<text x="1099.30" y="642.30" text-anchor="middle" textLength="134.0" lengthAdjust="spacing">ace/Functor_String.h</text>
<rect x="1203.5" y="625.5" width="80.0" height="27.0" fill="#fff" stroke="#bfbfbf" stroke-width="1"/>
<text x="1242.30" y="642.30" text-anchor="middle" textLength="56.0" lengthAdjust="spacing">ace/OS.h</text>
<rect x="763.5" y="703.5" width="138.0" height="26.0" fill="#fff" stroke="#ff0000" stroke-width="1"/>
<text x="831.30" y="719.80" text-anchor="middle" textLength="114.0" lengthAdjust="spacing">loggingMACROS.h</text>
<rect x="975.5" y="703.5" width="138.0" height="26.0" fill="#fff" stroke="#bfbfbf" stroke-width="1"/>
<text x="1043.30" y="719.80" text-anchor="middle" textLength="114.0" lengthAdjust="spacing">ace/Log_Record.h</text>
<rect x="1134.5" y="703.5" width="171.0" height="26.0" fill="#fff" stroke="#ff0000" stroke-width="1"/>
<text x="1218.80" y="719.80" text-anchor="middle" textLength="147.0" lengthAdjust="spacing">loggingLoggingProxy.h</text>
<rect x="469.5" y="780.5" width="153.0" height="27.0" fill="#fff" stroke="#000" stroke-width="1"/>
<text x="544.80" y="797.30" text-anchor="middle" textLength="129.0" lengthAdjust="spacing">loggingACSLogger.h</text>
<rect x="645.5" y="780.5" width="150.0" height="27.0" fill="#fff" stroke="#000" stroke-width="1"/>
<text x="719.30" y="797.30" text-anchor="middle" textLength="126.0" lengthAdjust="spacing">loggingGetLogger.h</text>
<rect x="646.5" y="857.5" width="127.0" height="27.0" fill="#fff" stroke="#ff0000" stroke-width="1"/>
<text x="708.80" y="874.30" text-anchor="middle" textLength="103.0" lengthAdjust="spacing">loggingLogger.h</text>
<rect x="858.5" y="857.5" width="180.0" height="27.0" fill="#fff" stroke="#ff0000" stroke-width="1"/>
<text x="947.30" y="874.30" text-anchor="middle" textLength="156.0" lengthAdjust="spacing">loggingLogSvcHandler.h</text>
<rect x="409.5" y="935.5" width="155.0" height="26.0" fill="#fff" stroke="#bfbfbf" stroke-width="1"/>
<text x="485.80" y="951.80" text-anchor="middle" textLength="131.0" lengthAdjust="spacing">ace/Thread_Mutex.h</text>
<rect x="689.5" y="935.5" width="41.0" height="26.0" fill="#fff" stroke="#bfbfbf" stroke-width="1"/>
<text x="708.80" y="951.80" text-anchor="middle" textLength="17.0" lengthAdjust="spacing">list</text>
<rect x="753.5" y="935.5" width="124.0" height="26.0" fill="#fff" stroke="#bfbfbf" stroke-width="1"/>
<text x="814.30" y="951.80" text-anchor="middle" textLength="100.0" lengthAdjust="spacing">ace/Singleton.h</text>
<rect x="900.5" y="935.5" width="133.0" height="26.0" fill="#fff" stroke="#000" stroke-width="1"/>
<text x="965.80" y="951.80" text-anchor="middle" textLength="109.0" lengthAdjust="spacing">loggingHandler.h</text>
<rect x="785.5" y="1012.5" width="139.0" height="27.0" fill="#fff" stroke="#ff0000" stroke-width="1"/>
<text x="853.80" y="1029.30" text-anchor="middle" textLength="115.0" lengthAdjust="spacing">loggingBaseLog.h</text>
<rect x="571.5" y="1089.5" width="60.0" height="27.0" fill="#fff" stroke="#bfbfbf" stroke-width="1"/>
<text x="600.30" y="1106.30" text-anchor="middle" textLength="36.0" lengthAdjust="spacing">string</text>
<rect x="1013.5" y="1089.5" width="115.0" height="27.0" fill="#fff" stroke="#bfbfbf" stroke-width="1"/>
<text x="1069.80" y="1106.30" text-anchor="middle" textLength="91.0" lengthAdjust="spacing">lokiSmartPtr.h</text>
</svg></body></html>
